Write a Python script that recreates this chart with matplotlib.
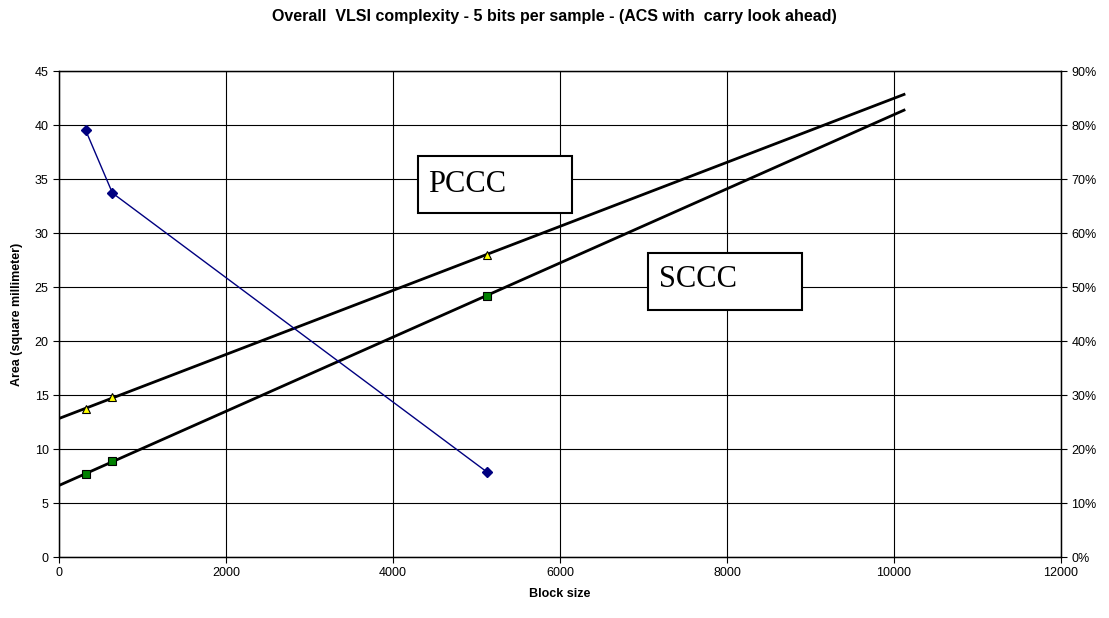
import matplotlib
matplotlib.use("Agg")
import matplotlib.pyplot as plt
import numpy as np

plt.rcParams['font.family'] = ['Liberation Sans', 'DejaVu Sans']

# Data
block_size = [320, 640, 5120]
pccc_area = [13.7, 14.8, 28.0]
sccc_area = [7.65, 8.9, 24.2]
ratio_pct = [79.0, 67.4, 15.8]

x_ticks = [0, 2000, 4000, 6000, 8000, 10000, 12000]
y_ticks = [0, 5, 10, 15, 20, 25, 30, 35, 40, 45]
y2_ticks = [0, 10, 20, 30, 40, 50, 60, 70, 80, 90]

title = "Overall  VLSI complexity - 5 bits per sample - (ACS with  carry look ahead)"

fig = plt.figure(figsize=(11.09, 6.18), dpi=100)
ax = fig.add_axes([59 / 1109, 61 / 618, 1002 / 1109, 486 / 618])

# linear trendlines, backward to 0 and forward 5000
trend_x = np.array([0, block_size[-1] + 5000])
for ys in (pccc_area, sccc_area):
    k, b = np.polyfit(block_size, ys, 1)
    ax.plot(trend_x, k * trend_x + b, color='black', lw=2, zorder=3)

ax.plot(block_size, pccc_area, ls='none', marker='^', ms=6,
        mfc='#FFFF00', mec='black', mew=0.8, zorder=4)
ax.plot(block_size, sccc_area, ls='none', marker='s', ms=6,
        mfc='#008000', mec='black', mew=0.8, zorder=4)

ax.set_xlim(0, 12000)
ax.set_ylim(0, 45)
ax.set_xticks(x_ticks)
ax.set_yticks(y_ticks)
ax.grid(True, color='black', lw=0.8)
ax.set_axisbelow(True)
ax.tick_params(labelsize=9, direction='out', length=4, width=0.8)
ax.set_xlabel("Block size", fontsize=9, fontweight='bold', labelpad=6)
ax.set_ylabel("Area (square millimeter)", fontsize=9, fontweight='bold', labelpad=8)
for s in ax.spines.values():
    s.set_linewidth(1)

ax2 = ax.twinx()
ax2.plot(block_size, ratio_pct, color='#000080', lw=1, marker='D', ms=5,
         mfc='#000080', mec='#000080', zorder=5)
ax2.set_ylim(0, 90)
ax2.set_yticks(y2_ticks)
ax2.set_yticklabels([f"{v}%" for v in y2_ticks])
ax2.tick_params(labelsize=9, direction='out', length=4, width=0.8)

fig.text(0.5, 1 - 17 / 618, title, ha='center', va='center',
         fontsize=11.5, fontweight='bold')

# boxed labels (pixel positions of box and text baseline)
for (x0, y0, x1, y1, tx, ty, label) in [(418, 156, 572, 213, 428, 192, 'PCCC'),
                                        (648, 253, 802, 310, 659, 287, 'SCCC')]:
    fig.patches.append(plt.Rectangle((x0 / 1109, 1 - y1 / 618), (x1 - x0) / 1109,
                                     (y1 - y0) / 618, transform=fig.transFigure,
                                     fc='white', ec='black', lw=1.5, zorder=10))
    fig.text(tx / 1109, 1 - ty / 618, label, ha='left', va='baseline',
             fontsize=22, family=['Liberation Serif'], zorder=11)

fig.savefig("out.png", dpi=100)
